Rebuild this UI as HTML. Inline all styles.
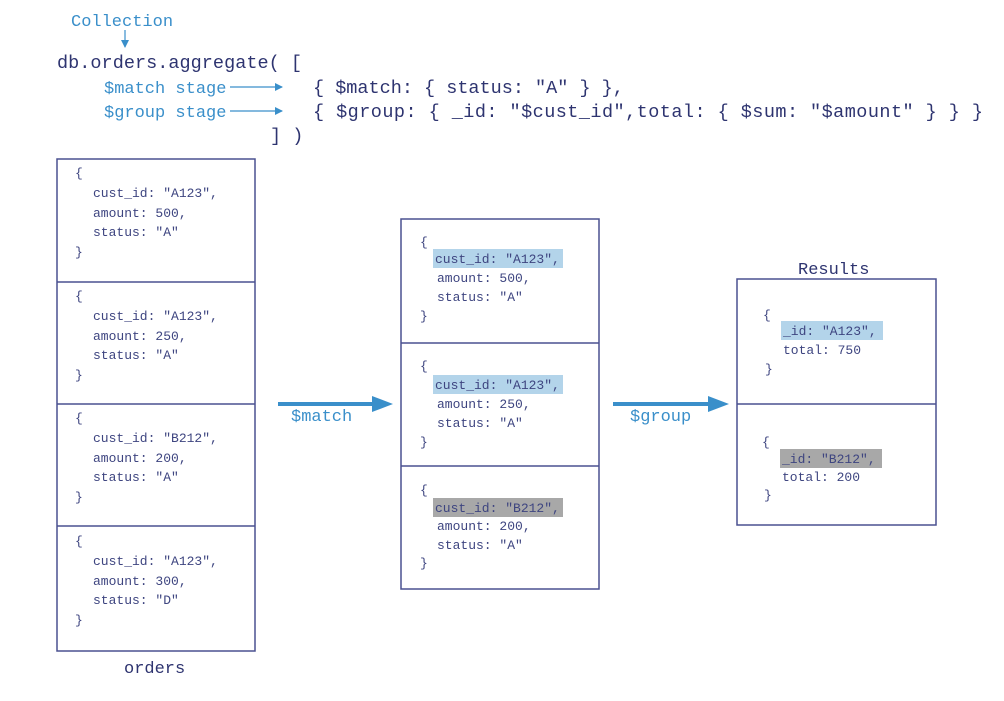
<!DOCTYPE html>
<html><head><meta charset="utf-8"><style>
html,body{margin:0;padding:0;background:#fff;}
svg{display:block;}
text{font-family:"Liberation Mono",monospace;}
.c{fill:#2e3470;font-size:18.5px;}
.b{fill:#3a8fca;font-size:17px;}
.s{fill:#3e4580;font-size:13px;}
.l{fill:#2e3470;font-size:17px;}
</style></head><body>
<svg width="1004" height="701" viewBox="0 0 1004 701" xmlns="http://www.w3.org/2000/svg">
<defs><marker id="ah" markerWidth="8" markerHeight="8" refX="7" refY="4" orient="auto" markerUnits="userSpaceOnUse"><path d="M0,0 L8,4 L0,8 z" fill="#3a8fca"/></marker></defs>
<text class="b" x="71" y="26">Collection</text>
<line x1="125" y1="30" x2="125" y2="47" stroke="#3a8fca" stroke-width="1.2" marker-end="url(#ah)"/>
<text class="c" x="57" y="68" textLength="245">db.orders.aggregate( [</text>
<text class="b" x="104" y="93">$match stage</text>
<line x1="230" y1="87" x2="282" y2="87" stroke="#3a8fca" stroke-width="1.2" marker-end="url(#ah)"/>
<text class="c" x="313" y="93">{ $match: { status: "A" } },</text>
<text class="b" x="104" y="117">$group stage</text>
<line x1="230" y1="111" x2="282" y2="111" stroke="#3a8fca" stroke-width="1.2" marker-end="url(#ah)"/>
<text class="c" x="313" y="117" textLength="670">{ $group: { _id: "$cust_id",total: { $sum: "$amount" } } }</text>
<text class="c" x="270" y="141">] )</text>

<g fill="none" stroke="#4a5190" stroke-width="1.5">
<rect x="57" y="159" width="198" height="492"/>
<line x1="57" y1="282" x2="255" y2="282"/><line x1="57" y1="404" x2="255" y2="404"/><line x1="57" y1="526" x2="255" y2="526"/>
<rect x="401" y="219" width="198" height="370"/>
<line x1="401" y1="343" x2="599" y2="343"/><line x1="401" y1="466" x2="599" y2="466"/>
<rect x="737" y="279" width="199" height="246"/>
<line x1="737" y1="404" x2="936" y2="404"/>
</g>

<g class="s">
<text x="75" y="177">{</text><text x="93" y="197">cust_id: "A123",</text><text x="93" y="217">amount: 500,</text><text x="93" y="236">status: "A"</text><text x="75" y="256">}</text>
<text x="75" y="300">{</text><text x="93" y="320">cust_id: "A123",</text><text x="93" y="340">amount: 250,</text><text x="93" y="359">status: "A"</text><text x="75" y="379">}</text>
<text x="75" y="422">{</text><text x="93" y="442">cust_id: "B212",</text><text x="93" y="462">amount: 200,</text><text x="93" y="481">status: "A"</text><text x="75" y="501">}</text>
<text x="75" y="545">{</text><text x="93" y="565">cust_id: "A123",</text><text x="93" y="585">amount: 300,</text><text x="93" y="604">status: "D"</text><text x="75" y="624">}</text>
</g>
<text class="l" x="124" y="673">orders</text>

<rect x="433" y="249" width="130" height="19" fill="#b3d4ea"/>
<rect x="433" y="375" width="130" height="19" fill="#b3d4ea"/>
<rect x="433" y="498" width="130" height="19" fill="#a8a8a8"/>
<g class="s">
<text x="420" y="246">{</text><text x="435" y="263">cust_id: "A123",</text><text x="437" y="282">amount: 500,</text><text x="437" y="301">status: "A"</text><text x="420" y="320">}</text>
<text x="420" y="370">{</text><text x="435" y="389">cust_id: "A123",</text><text x="437" y="408">amount: 250,</text><text x="437" y="427">status: "A"</text><text x="420" y="446">}</text>
<text x="420" y="494">{</text><text x="435" y="512">cust_id: "B212",</text><text x="437" y="530">amount: 200,</text><text x="437" y="549">status: "A"</text><text x="420" y="567">}</text>
</g>

<line x1="278" y1="404" x2="374" y2="404" stroke="#3a8fca" stroke-width="4"/>
<path d="M372,396 L393,404 L372,412 z" fill="#3a8fca"/>
<text class="b" x="291" y="421">$match</text>
<line x1="613" y1="404" x2="710" y2="404" stroke="#3a8fca" stroke-width="4"/>
<path d="M708,396 L729,404 L708,412 z" fill="#3a8fca"/>
<text class="b" x="630" y="421">$group</text>

<text class="l" x="798" y="274">Results</text>
<rect x="781" y="321" width="102" height="19" fill="#b3d4ea"/>
<rect x="780" y="449" width="102" height="19" fill="#a8a8a8"/>
<g class="s">
<text x="763" y="319">{</text><text x="783" y="335">_id: "A123",</text><text x="783" y="354">total: 750</text><text x="765" y="373">}</text>
<text x="762" y="446">{</text><text x="782" y="463">_id: "B212",</text><text x="782" y="481">total: 200</text><text x="764" y="499">}</text>
</g>
</svg>
</body></html>
